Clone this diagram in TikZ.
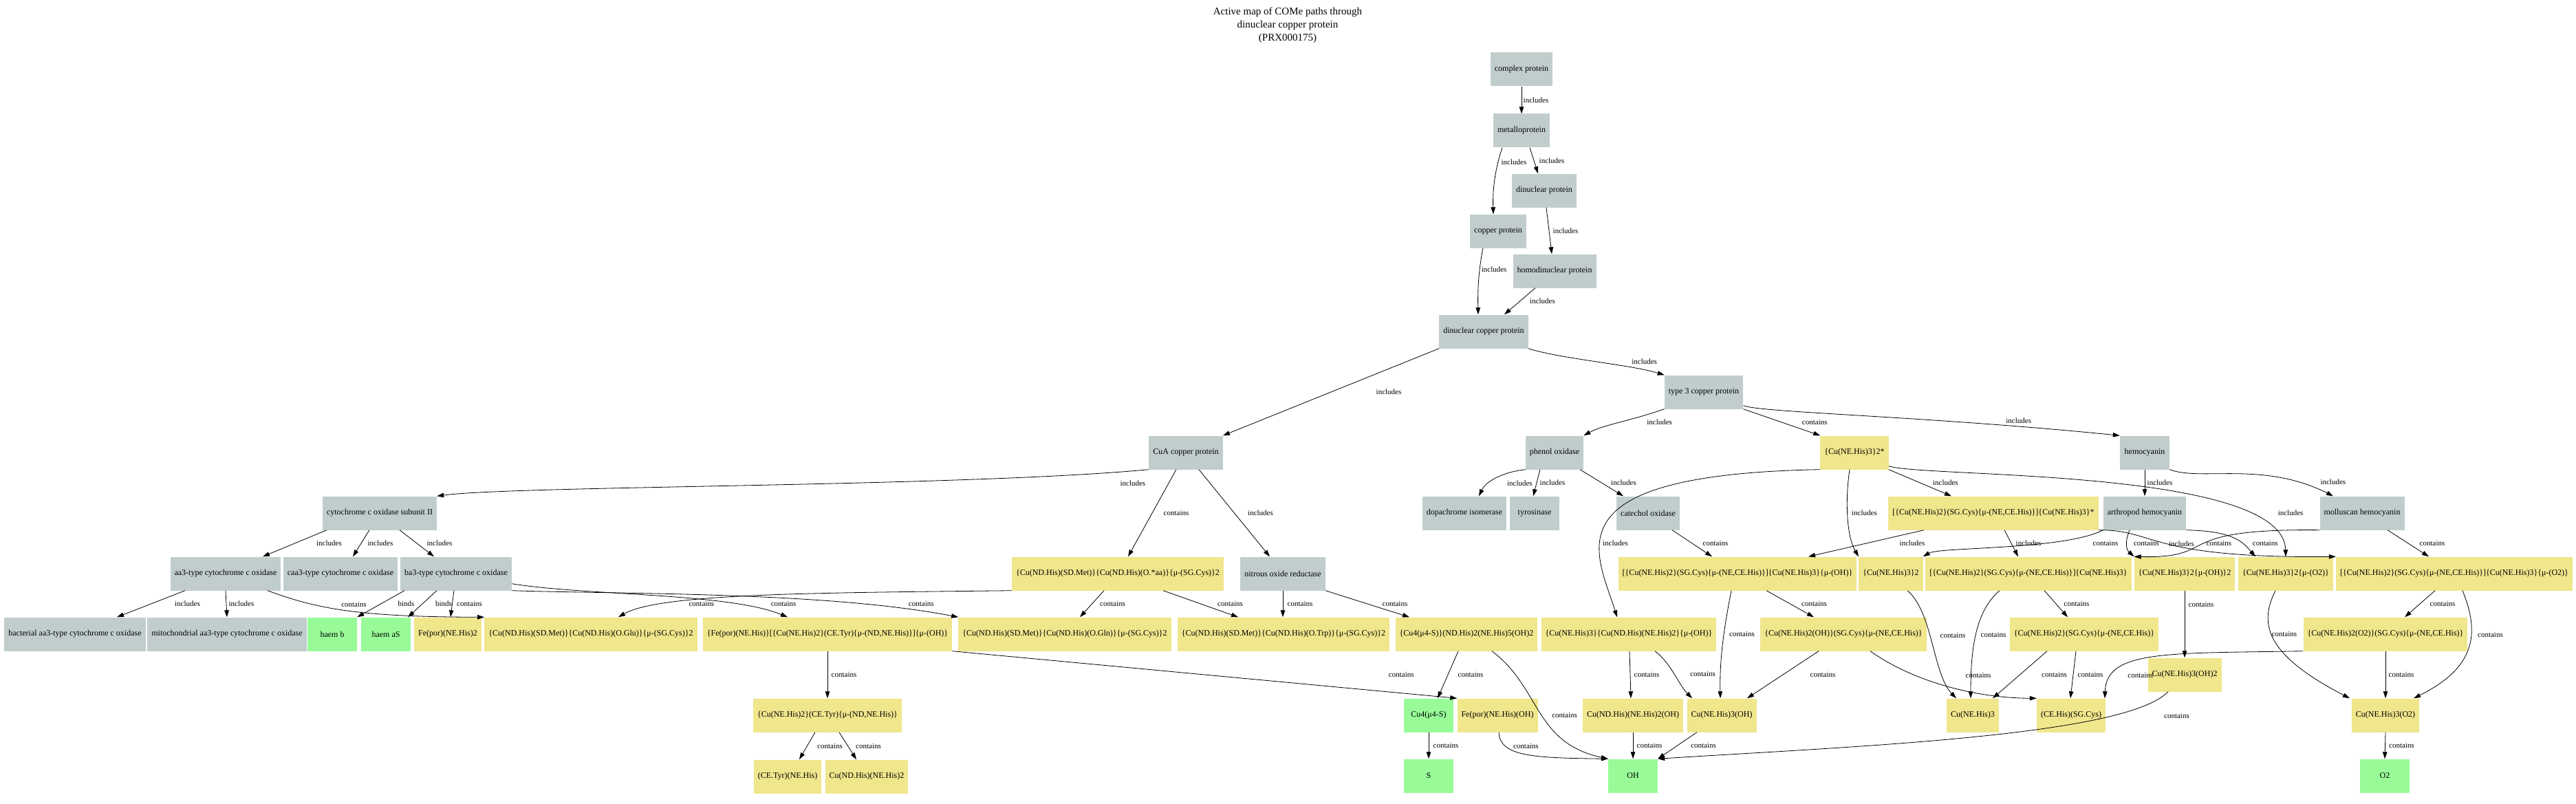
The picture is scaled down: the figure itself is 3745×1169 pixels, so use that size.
\documentclass[tikz,border=0pt]{standalone}
\usepackage{fontspec}
\setmainfont{Liberation Serif}
\usetikzlibrary{arrows.meta}
\definecolor{protgrey}{HTML}{C1CDCD}
\definecolor{sitekhaki}{HTML}{F0E68C}
\definecolor{liggreen}{HTML}{98FB98}

\begin{document}
\begin{tikzpicture}[x=1pt, y=-1pt,
  every node/.style={font=\fontsize{12}{14}\selectfont},
  box/.style={rectangle, minimum width=72pt, minimum height=49pt, inner xsep=6pt, inner ysep=2pt},
  prot/.style={box, fill=protgrey},
  site/.style={box, fill=sitekhaki},
  lig/.style={box, fill=liggreen},
  rel/.style={-{Triangle[length=10pt,width=6.5pt]}, line width=0.8pt},
  lbl/.style={font=\fontsize{11}{13}\selectfont, inner sep=0pt}]
\useasboundingbox (0,0) rectangle (3745,1169);

% Title
\node[align=center, font=\fontsize{15}{19}\selectfont] (title) at (1872,37) {Active map of COMe paths through\\dinuclear copper protein\\(PRX000175)};

% Protein classes
\node[prot] (cplx) at (2212,101) {complex protein};
\node[prot] (metal) at (2212,190) {metalloprotein};
\node[prot] (dinuc) at (2245,277) {dinuclear protein};
\node[prot] (cuprot) at (2178,336) {copper protein};
\node[prot] (homo) at (2260,394) {homodinuclear protein};
\node[prot] (dcp) at (2157,482) {dinuclear copper protein};
\node[prot] (cua) at (1724,658) {CuA copper protein};
\node[prot] (t3) at (2477,570) {type 3 copper protein};
\node[prot] (coxII) at (552,746) {cytochrome c oxidase subunit II};
\node[prot] (aa3) at (328,834) {aa3-type cytochrome c oxidase};
\node[prot] (caa3) at (495,834) {caa3-type cytochrome c oxidase};
\node[prot] (ba3) at (663,834) {ba3-type cytochrome c oxidase};
\node[prot] (baa3) at (109,922) {bacterial aa3-type cytochrome c oxidase};
\node[prot] (maa3) at (330,922) {mitochondrial aa3-type cytochrome c oxidase};
\node[prot] (n2or) at (1865,834) {nitrous oxide reductase};
\node[prot] (phen) at (2260,658) {phenol oxidase};
\node[prot] (dopa) at (2129,746) {dopachrome isomerase};
\node[prot] (tyro) at (2231,746) {tyrosinase};
\node[prot] (cat) at (2396,746) {catechol oxidase};
\node[prot] (hc) at (3118,658) {hemocyanin};
\node[prot] (arth) at (3118,746) {arthropod hemocyanin};
\node[prot] (moll) at (3434,746) {molluscan hemocyanin};

% Sites
\node[site] (fepor2) at (651,922) {Fe(por)(NE.His)2};
\node[site] (cuaglu) at (859,922) {\{Cu(ND.His)(SD.Met)\}\{Cu(ND.His)(O.Glu)\}\{μ-(SG.Cys)\}2};
\node[site] (fecu) at (1203,922) {\{Fe(por)(NE.His)\}[\{Cu(NE.His)2\}(CE.Tyr)\{μ-(ND,NE.His)\}]\{μ-(OH)\}};
\node[site] (cuagln) at (1548,922) {\{Cu(ND.His)(SD.Met)\}\{Cu(ND.His)(O.Gln)\}\{μ-(SG.Cys)\}2};
\node[site] (cuatrp) at (1866,922) {\{Cu(ND.His)(SD.Met)\}\{Cu(ND.His)(O.Trp)\}\{μ-(SG.Cys)\}2};
\node[site] (cuaaa) at (1625,834) {\{Cu(ND.His)(SD.Met)\}\{Cu(ND.His)(O.*aa)\}\{μ-(SG.Cys)\}2};
\node[site] (cutyr) at (1203,1040) {\{Cu(NE.His)2\}(CE.Tyr)\{μ-(ND,NE.His)\}};
\node[site] (tyrhis) at (1145,1129) {(CE.Tyr)(NE.His)};
\node[site] (cundhis) at (1260,1129) {Cu(ND.His)(NE.His)2};
\node[site] (cuz) at (2132,922) {\{Cu4(μ4-S)\}(ND.His)2(NE.His)5(OH)2};
\node[site] (feoh) at (2177,1040) {Fe(por)(NE.His)(OH)};
\node[site] (cu3s) at (2696,658) {\{Cu(NE.His)3\}2*};
\node[site] (cysstar) at (2898,746) {[\{Cu(NE.His)2\}(SG.Cys)\{μ-(NE,CE.His)\}]\{Cu(NE.His)3\}*};
\node[site] (cysoh) at (2526,834) {[\{Cu(NE.His)2\}(SG.Cys)\{μ-(NE,CE.His)\}]\{Cu(NE.His)3\}\{μ-(OH)\}};
\node[site] (cu32) at (2749,834) {\{Cu(NE.His)3\}2};
\node[site] (cys) at (2949,834) {[\{Cu(NE.His)2\}(SG.Cys)\{μ-(NE,CE.His)\}]\{Cu(NE.His)3\}};
\node[site] (cu3oh2) at (3176,834) {\{Cu(NE.His)3\}2\{μ-(OH)\}2};
\node[site] (cu3o2) at (3323,834) {\{Cu(NE.His)3\}2\{μ-(O2)\}};
\node[site] (cyso2) at (3568,834) {[\{Cu(NE.His)2\}(SG.Cys)\{μ-(NE,CE.His)\}]\{Cu(NE.His)3\}\{μ-(O2)\}};
\node[site] (cundoh) at (2368,922) {\{Cu(NE.His)3\}\{Cu(ND.His)(NE.His)2\}\{μ-(OH)\}};
\node[site] (cuohcys) at (2680,922) {\{Cu(NE.His)2(OH)\}(SG.Cys)\{μ-(NE,CE.His)\}};
\node[site] (cucys) at (3030,922) {\{Cu(NE.His)2\}(SG.Cys)\{μ-(NE,CE.His)\}};
\node[site] (cuo2cys) at (3468,922) {\{Cu(NE.His)2(O2)\}(SG.Cys)\{μ-(NE,CE.His)\}};
\node[site] (cuohtwo) at (3176,981) {Cu(NE.His)3(OH)2};
\node[site] (cundhisoh) at (2374,1040) {Cu(ND.His)(NE.His)2(OH)};
\node[site] (cuhisoh) at (2503,1040) {Cu(NE.His)3(OH)};
\node[site] (cuhis3) at (2868,1040) {Cu(NE.His)3};
\node[site] (hiscys) at (3011,1040) {(CE.His)(SG.Cys)};
\node[site] (cuhiso2) at (3468,1040) {Cu(NE.His)3(O2)};

% Ligands
\node[lig] (haemb) at (483,922) {haem b};
\node[lig] (haema) at (561,922) {haem aS};
\node[lig] (cu4s) at (2077,1040) {Cu4(μ4-S)};
\node[lig] (sulf) at (2077,1128) {S};
\node[lig] (hydrox) at (2374,1128) {OH};
\node[lig] (dioxy) at (3467,1128) {O2};

% Top of the hierarchy
\draw[rel] (cplx.south) -- node[lbl, xshift=21pt]{includes} (metal.north);
\draw[rel] ([xshift=-28pt]metal.south) .. controls (2172,250) and (2170,280) .. node[lbl, pos=0.2, xshift=23pt]{includes} ([xshift=-7pt]cuprot.north);
\draw[rel] ([xshift=12pt]metal.south) -- node[lbl, xshift=26pt]{includes} ([xshift=-9pt]dinuc.north);
\draw[rel] ([xshift=3pt]dinuc.south) -- node[lbl, xshift=24pt]{includes} ([xshift=-4pt]homo.north);
\draw[rel] ([xshift=-22pt]cuprot.south) .. controls (2150,390) and (2148,420) .. node[lbl, pos=0.35, xshift=21pt]{includes} ([xshift=-8pt]dcp.north);
\draw[rel] ([xshift=-28pt]homo.south) -- node[lbl, xshift=33pt]{includes} ([xshift=30pt]dcp.north);
\draw[rel] (dcp.south west) -- node[lbl, xshift=84pt]{includes} (cua.north east);
\draw[rel] (dcp.south east) .. controls (2270,522) and (2370,530) .. node[lbl, pos=0.8, xshift=6pt, yshift=11pt]{includes} (t3.north west);

% CuA branch
\draw[rel] (cua.south west) .. controls (1400,708) and (750,706) .. node[lbl, pos=0.05, xshift=20pt, yshift=-16pt]{includes} (coxII.north east);
\draw[rel] ([xshift=-14pt]cua.south) -- node[lbl, xshift=35pt]{contains} ([xshift=15pt]cuaaa.north);
\draw[rel] ([xshift=19pt]cua.south) -- node[lbl, xshift=38pt]{includes} ([xshift=-19pt]n2or.north);
\draw[rel] ([xshift=-77pt]coxII.south) -- node[lbl, xshift=50pt]{includes} ([xshift=54pt]aa3.north);
\draw[rel] ([xshift=-15pt]coxII.south) -- node[lbl, xshift=28pt]{includes} ([xshift=18pt]caa3.north);
\draw[rel] ([xshift=29pt]coxII.south) -- node[lbl, xshift=33pt]{includes} ([xshift=-32pt]ba3.north);
\draw[rel] ([xshift=-59pt]aa3.south) -- node[lbl, xshift=53pt]{includes} ([xshift=61pt]baa3.north);
\draw[rel] (aa3.south) -- node[lbl, xshift=22pt]{includes} (maa3.north);
\draw[rel] ([xshift=61pt]aa3.south) .. controls (460,885) and (520,897) .. node[lbl, pos=0.3, xshift=61pt]{contains} (cuaglu.north west);
\draw[rel] ([xshift=-75pt]ba3.south) -- node[lbl, xshift=37pt]{binds} (haemb.north east);
\draw[rel] ([xshift=-28pt]ba3.south) -- node[lbl, xshift=31pt]{binds} ([xshift=32pt]haema.north);
\draw[rel] ([xshift=-3pt]ba3.south) -- node[lbl, xshift=25pt]{contains} ([xshift=4pt]fepor2.north);
\draw[rel] ([yshift=10pt]ba3.south east) .. controls (850,866) and (1060,862) .. node[lbl, pos=0.85, xshift=40pt, yshift=6pt]{contains} ([xshift=-58pt]fecu.north);
\draw[rel] (ba3.south east) .. controls (900,864) and (1200,860) .. node[lbl, pos=0.9, xshift=7pt, yshift=9pt]{contains} (cuagln.north west);
\draw[rel] (cuaaa.south west) .. controls (1200,862) and (960,862) .. node[lbl, pos=0.8, xshift=64pt, yshift=2pt]{contains} ([xshift=40pt]cuaglu.north);
\draw[rel] ([xshift=-20pt]cuaaa.south) -- node[lbl, xshift=30pt]{contains} ([xshift=22pt]cuagln.north);
\draw[rel] ([xshift=66pt]cuaaa.south) -- node[lbl, xshift=43pt]{contains} ([xshift=-66pt]cuatrp.north);
\draw[rel] (n2or.south) -- node[lbl, xshift=25pt]{contains} (n2or.south |- cuatrp.north);
\draw[rel] (n2or.south east) -- node[lbl, xshift=40pt]{contains} ([xshift=-83pt]cuz.north);
\draw[rel] (fecu.south) -- node[lbl, xshift=24pt]{contains} (cutyr.north);
\draw[rel] (fecu.south east) -- node[lbl, pos=0.88, xshift=7pt, yshift=26pt]{contains} (feoh.north west);
\draw[rel] ([xshift=-18pt]cutyr.south) -- node[lbl, xshift=33pt]{contains} ([xshift=17pt]tyrhis.north);
\draw[rel] ([xshift=17pt]cutyr.south) -- node[lbl, xshift=30pt]{contains} ([xshift=-15pt]cundhis.north);
\draw[rel] ([xshift=-12pt]cuz.south) -- node[lbl, xshift=33pt]{contains} ([xshift=13pt]cu4s.north);
\draw[rel] ([xshift=37pt]cuz.south) .. controls (2240,1000) and (2230,1080) .. node[lbl, pos=0.5, xshift=35pt, yshift=-4pt]{contains} (hydrox.north west);
\draw[rel] (cu4s.south) -- node[lbl, xshift=25pt]{contains} (sulf.north);
\draw[rel] ([xshift=2pt]feoh.south) .. controls (2180,1100) and (2230,1102) .. node[lbl, pos=0.3, xshift=25pt, yshift=3pt]{contains} (hydrox.north west);

% Type 3 branch
\draw[rel] (t3.south west) .. controls (2370,612) and (2330,618) .. node[lbl, pos=0.3, xshift=35pt, yshift=-6pt]{includes} (phen.north east);
\draw[rel] (t3.south east) -- node[lbl, xshift=48pt]{contains} (cu3s.north west);
\draw[rel] ([yshift=5pt]t3.south east) .. controls (2560,600) and (2800,605) .. node[lbl, pos=0.82, yshift=8pt]{includes} (hc.north west);
\draw[rel] ([xshift=-42pt]phen.south) .. controls (2185,686) and (2160,700) .. node[lbl, pos=0.5, xshift=34pt, yshift=-7pt]{includes} ([xshift=21pt]dopa.north);
\draw[rel] ([xshift=-21pt]phen.south) -- node[lbl, xshift=23pt]{includes} ([xshift=-2pt]tyro.north);
\draw[rel] ([xshift=37pt]phen.south) -- node[lbl, xshift=32pt]{includes} ([xshift=-36pt]cat.north);
\draw[rel] ([xshift=35pt]cat.south) -- node[lbl, xshift=34pt]{contains} ([xshift=-37pt]cysoh.north);
\draw[rel] (cu3s.south west) .. controls (2250,690) and (2320,800) .. node[lbl, pos=0.62, xshift=22pt, yshift=-3pt]{includes} ([xshift=-17pt]cundoh.north);
\draw[rel] ([xshift=-7pt]cu3s.south) .. controls (2682,730) and (2685,780) .. node[lbl, pos=0.5, xshift=24pt, yshift=7pt]{includes} ([xshift=-47pt]cu32.north);
\draw[rel] (cu3s.south east) -- node[lbl, xshift=37pt]{includes} ([xshift=-61pt]cysstar.north);
\draw[rel] ([yshift=5pt]cu3s.south east) .. controls (2800,695) and (3320,680) .. node[lbl, pos=0.85, xshift=40pt, yshift=15pt]{includes} (cu3o2.north);
\draw[rel] ([xshift=-101pt]cysstar.south) -- node[lbl, xshift=67pt]{includes} ([xshift=103pt]cysoh.north);
\draw[rel] ([xshift=16pt]cysstar.south) -- node[lbl, xshift=25pt]{includes} ([xshift=-15pt]cys.north);
\draw[rel] (cysstar.south east) .. controls (3135,770) and (3120,812) .. node[lbl, pos=0.5, xshift=20pt]{includes} (cyso2.north west);
\draw[rel] (hc.south) -- node[lbl, xshift=22pt]{includes} (arth.north);
\draw[rel] (hc.south east) .. controls (3200,700) and (3290,670) .. node[lbl, pos=0.9, xshift=30pt, yshift=7pt]{includes} ([xshift=-42pt]moll.north);
\draw[rel] (arth.south west) .. controls (3000,800) and (2820,795) .. node[lbl, pos=0.1, xshift=24pt, yshift=-11pt]{contains} (cu32.north east);
\draw[rel] ([xshift=-22pt]arth.south) .. controls (3088,790) and (3092,800) .. node[lbl, pos=0.5, xshift=28pt, yshift=4pt]{contains} (cu3oh2.north west);
\draw[rel] (arth.south east) .. controls (3250,772) and (3262,790) .. node[lbl, pos=0.5, xshift=44pt, yshift=-7pt]{contains} ([xshift=-44pt]cu3o2.north);
\draw[rel] (moll.south west) .. controls (3150,768) and (3230,812) .. node[lbl, pos=0.5, xshift=24pt]{contains} (cu3oh2.north west);
\draw[rel] ([xshift=37pt]moll.south) -- node[lbl, xshift=35pt]{contains} ([xshift=-37pt]cyso2.north);

% Lower sites
\draw[rel] ([xshift=42pt]cysoh.south) -- node[lbl, xshift=35pt]{contains} ([xshift=-43pt]cuohcys.north);
\draw[rel] ([xshift=-9pt]cysoh.south) .. controls (2505,920) and (2500,960) .. node[lbl, pos=0.42, xshift=27pt, yshift=5pt]{contains} ([xshift=-2pt]cuhisoh.north);
\draw[rel] ([xshift=1pt]cundoh.south) -- node[lbl, xshift=24pt]{contains} ([xshift=-3pt]cundhisoh.north);
\draw[rel] ([xshift=38pt]cundoh.south) .. controls (2430,965) and (2440,995) .. node[lbl, pos=0.5, xshift=41pt]{contains} ([xshift=-43pt]cuhisoh.north);
\draw[rel] ([xshift=-36pt]cuohcys.south) -- node[lbl, xshift=58pt]{contains} ([xshift=37pt]cuhisoh.north);
\draw[rel] ([xshift=39pt]cuohcys.south) .. controls (2780,990) and (2870,1015) .. node[lbl, pos=0.6, xshift=22pt, yshift=22pt]{contains} (hiscys.north west);
\draw[rel] ([xshift=24pt]cu32.south) .. controls (2810,890) and (2810,980) .. node[lbl, pos=0.45, xshift=32pt, yshift=2pt]{contains} ([xshift=-24pt]cuhis3.north);
\draw[rel] ([xshift=-42pt]cys.south) .. controls (2870,890) and (2865,950) .. node[lbl, pos=0.45, xshift=24pt, yshift=-7pt]{contains} ([xshift=-3pt]cuhis3.north);
\draw[rel] ([xshift=23pt]cys.south) -- node[lbl, xshift=30pt]{contains} ([xshift=-24pt]cucys.north);
\draw[rel] ([xshift=-54pt]cucys.south) -- node[lbl, xshift=50pt]{contains} ([xshift=29pt]cuhis3.north);
\draw[rel] ([xshift=-12pt]cucys.south) -- node[lbl, xshift=25pt]{contains} ([xshift=-1pt]hiscys.north);
\draw[rel] (cuo2cys.south west) .. controls (3150,950) and (3062,945) .. node[lbl, pos=0.85, xshift=45pt, yshift=7pt]{contains} ([xshift=49pt]hiscys.north);
\draw[rel] (cu3oh2.south) -- node[lbl, pos=0.21, xshift=24pt]{contains} (cuohtwo.north);
\draw[rel] ([xshift=-24pt]cuohtwo.south) .. controls (3090,1070) and (2700,1085) .. node[lbl, pos=0.15, xshift=61pt, yshift=-9pt]{contains} (hydrox.north east);
\draw[rel] ([xshift=-36pt]cuhisoh.south) -- node[lbl, xshift=38pt]{contains} (hydrox.north east);
\draw[rel] (cundhisoh.south) -- node[lbl, xshift=24pt]{contains} (hydrox.north);
\draw[rel] ([xshift=-28pt]cyso2.south) -- node[lbl, xshift=33pt]{contains} ([xshift=28pt]cuo2cys.north);
\draw[rel] ([xshift=12pt]cyso2.south) .. controls (3605,920) and (3600,970) .. node[lbl, pos=0.45, xshift=30pt, yshift=12pt]{contains} ([xshift=41pt]cuhiso2.north);
\draw[rel] ([xshift=-15pt]cu3o2.south) .. controls (3285,905) and (3290,950) .. node[lbl, pos=0.4, xshift=21pt, yshift=-7pt]{contains} ([xshift=-52pt]cuhiso2.north);
\draw[rel] (cuo2cys.south) -- node[lbl, xshift=23pt]{contains} (cuhiso2.north);
\draw[rel] (cuhiso2.south) -- node[lbl, xshift=24pt]{contains} (dioxy.north);
\end{tikzpicture}
\end{document}
